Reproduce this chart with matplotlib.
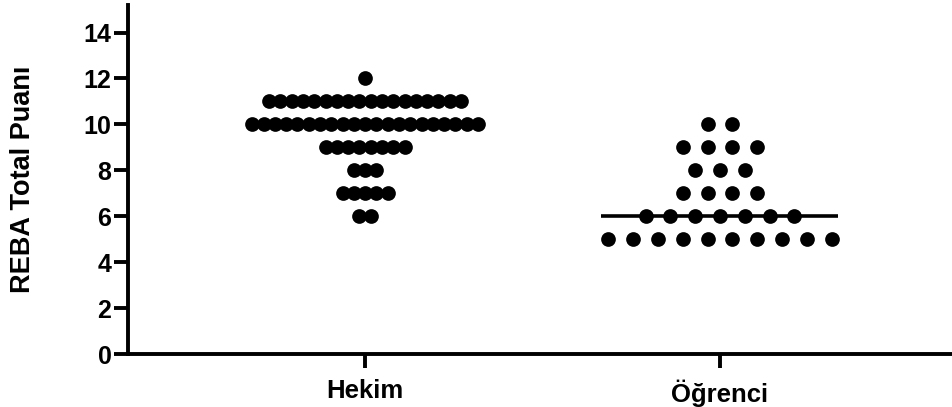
import numpy as np
import matplotlib.pyplot as plt

plt.rcParams['font.family'] = ['Liberation Sans', 'DejaVu Sans']
plt.rcParams['font.weight'] = 'bold'

groups = ["Hekim", "Öğrenci"]
# score -> number of subjects
hekim_scores = [6, 7, 8, 9, 10, 11, 12]
hekim_counts = [2, 5, 3, 8, 21, 18, 1]
ogrenci_scores = [5, 6, 7, 8, 9, 10]
ogrenci_counts = [10, 7, 4, 3, 4, 2]

data = [(hekim_scores, hekim_counts), (ogrenci_scores, ogrenci_counts)]
spacing = [0.0318, 0.0699]   # horizontal distance between dots, per group
median_half = 0.334

fig = plt.figure(figsize=(9.52, 4.07), dpi=100)
ax = fig.add_axes([0.1345, 0.130, 0.8655, 0.8577])

for gi, (scores, counts) in enumerate(data):
    xs, ys = [], []
    for sc, n in zip(scores, counts):
        off = (np.arange(n) - (n - 1) / 2) * spacing[gi]
        xs.extend(gi + off)
        ys.extend([sc] * n)
    ax.scatter(xs, ys, s=112, color='black', linewidths=0, zorder=3)
    med = np.median(ys)
    ax.plot([gi - median_half, gi + median_half], [med, med], color='black',
            lw=2.6, zorder=2, solid_capstyle='butt')

ax.set_xlim(-0.668, 1.654)
ax.set_ylim(0, 15.2)
ax.set_yticks(range(0, 15, 2))
ax.set_xticks([0, 1])
ax.set_xticklabels(groups, fontsize=18.5, fontweight='bold')
for lab in ax.get_yticklabels():
    lab.set_fontsize(18)
    lab.set_fontweight('bold')

for side in ['top', 'right']:
    ax.spines[side].set_visible(False)
for side in ['left', 'bottom']:
    ax.spines[side].set_linewidth(2.8)
ax.tick_params(axis='both', width=2.8, length=10, color='black')
ax.tick_params(axis='y', pad=2)
ax.tick_params(axis='x', pad=8)

ax.set_ylabel("REBA Total Puanı", fontsize=19.5, fontweight='bold', labelpad=34)

fig.savefig("out.png", dpi=100)
